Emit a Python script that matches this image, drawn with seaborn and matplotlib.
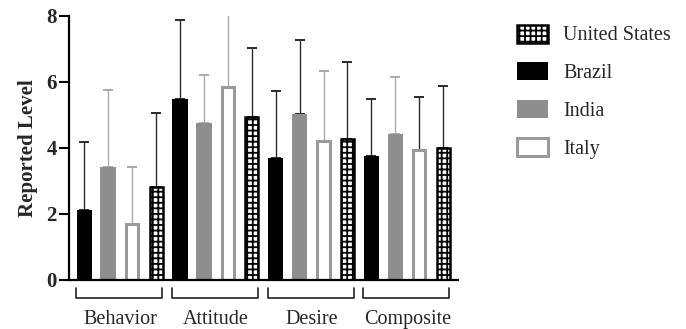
import matplotlib
matplotlib.use("Agg")
import matplotlib.pyplot as plt
import matplotlib.transforms as mtransforms
from matplotlib.patches import Patch
import pandas as pd
import seaborn as sns

# values
categories = ["Behavior", "Attitude", "Desire", "Composite"]
countries = ["Brazil", "India", "Italy", "United States"]

brazil_mean = [2.12, 5.47, 3.70, 3.76]
india_mean = [3.41, 4.76, 5.02, 4.41]
italy_mean = [1.70, 5.85, 4.20, 3.92]
us_mean = [2.82, 4.92, 4.25, 4.00]

brazil_sd = [2.06, 2.40, 2.02, 1.72]
india_sd = [2.34, 1.44, 2.24, 1.74]
italy_sd = [1.71, 2.40, 2.12, 1.62]
us_sd = [2.22, 2.09, 2.36, 1.87]

legend_order = ["United States", "Brazil", "India", "Italy"]

means = {"Brazil": brazil_mean, "India": india_mean, "Italy": italy_mean, "United States": us_mean}
sds = {"Brazil": brazil_sd, "India": india_sd, "Italy": italy_sd, "United States": us_sd}

rows = []
for c in countries:
    for cat, m, s in zip(categories, means[c], sds[c]):
        rows.append({"Measure": cat, "Country": c, "Mean": m, "SD": s})
df = pd.DataFrame(rows)

# bar looks
DARK = "#2b2b2b"
LIGHT = "#ababab"
styles = {
    "Brazil": dict(facecolor="black", edgecolor="black", linewidth=0, hatch=None),
    "India": dict(facecolor="#8e8e8e", edgecolor="#8e8e8e", linewidth=0, hatch=None),
    "Italy": dict(facecolor="white", edgecolor="#9a9a9a", linewidth=2.2, hatch=None),
    "United States": dict(facecolor="white", edgecolor="black", linewidth=1.8, hatch="+++"),
}
err_colors = {
    "Brazil": [DARK, DARK, DARK, DARK],
    "India": [LIGHT, LIGHT, DARK, LIGHT],
    "Italy": [LIGHT, LIGHT, LIGHT, DARK],
    "United States": [DARK, DARK, DARK, DARK],
}

sns.set_style("white")
plt.rcParams["font.family"] = ["Liberation Serif", "DejaVu Serif"]
plt.rcParams["hatch.linewidth"] = 1.3
plt.rcParams["hatch.color"] = "black"

fig = plt.figure(figsize=(6.86, 3.29), dpi=100)
ax = fig.add_axes([0.101, 0.150, 0.567, 0.802])

sns.barplot(data=df, x="Measure", y="Mean", hue="Country", order=categories,
            hue_order=countries, width=1.0, gap=0.35, errorbar=None,
            palette=["black", "#8e8e8e", "white", "white"], legend=False, ax=ax)

px_per_pt = fig.dpi / 72
for c, cont in zip(countries, ax.containers):
    st = styles[c]
    for j, p in enumerate(cont.patches):
        p.set_facecolor(st["facecolor"])
        p.set_edgecolor(st["edgecolor"])
        p.set_linewidth(st["linewidth"])
        if st["hatch"]:
            p.set_hatch(st["hatch"])
        p.set_zorder(3)
        cx = p.get_x() + p.get_width() / 2
        if st["linewidth"] > 0:
            # keep the outer size of stroked bars like the filled ones
            shrink = st["linewidth"] * px_per_pt / (ax.transData.transform((1, 0))[0] - ax.transData.transform((0, 0))[0])
            w = p.get_width() - shrink
            p.set_width(w)
            p.set_x(cx - w / 2)
        ax.errorbar(cx, p.get_height(), yerr=[[0], [sds[c][j]]], fmt="none",
                    ecolor=err_colors[c][j], elinewidth=1.0, capsize=3.6,
                    capthick=1.4, zorder=2)

ax.set_ylim(0, 8)
ax.set_xlim(-0.532, 3.533)
ax.set_yticks([0, 2, 4, 6, 8])
ax.set_ylabel("Reported Level", fontsize=15, fontweight="bold", labelpad=6)
ax.set_xlabel("")
for lab in ax.get_yticklabels():
    lab.set_fontweight("bold")
ax.tick_params(axis="y", length=7, width=1.5, labelsize=15, pad=2, left=True, color="black")
ax.tick_params(axis="x", length=0, labelsize=14.5, pad=22)
sns.despine(ax=ax)
for s in ["left", "bottom"]:
    ax.spines[s].set_linewidth(1.6)
    ax.spines[s].set_color("black")
    ax.spines[s].set_zorder(5)

# group brackets under the axis
trans = mtransforms.blended_transform_factory(ax.transData, ax.transAxes)
for pos in ax.get_xticks():
    ax.plot([pos - 0.46, pos - 0.46, pos + 0.44, pos + 0.44],
            [-0.031, -0.069, -0.069, -0.031], transform=trans,
            clip_on=False, color="#222222", lw=1.2)

handles = []
for c in legend_order:
    st = styles[c]
    handles.append(Patch(facecolor=st["facecolor"], edgecolor=st["edgecolor"],
                         linewidth=st["linewidth"], hatch=st["hatch"]))
fig.legend(handles, legend_order, loc="upper left", bbox_to_anchor=(0.739, 0.956),
           frameon=False, borderpad=0, handlelength=1.55, handleheight=1.0,
           labelspacing=0.84, handletextpad=0.75, fontsize=14.5)

fig.savefig("out.png", dpi=100)
